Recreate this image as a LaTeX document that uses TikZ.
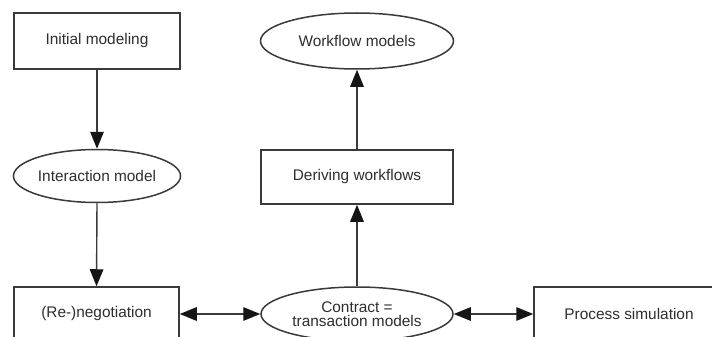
\documentclass[tikz,border=0pt]{standalone}
\usepackage{fontspec}
\setmainfont{Liberation Sans}
\usetikzlibrary{shapes.geometric,arrows.meta}
\definecolor{ink}{HTML}{3A3A3A}
\definecolor{tip}{HTML}{151515}
\definecolor{txt}{HTML}{2E2E2E}
\tikzset{
  base/.style={draw=ink, line width=1.5pt, text=txt, inner sep=0pt,
    font=\fontsize{15.4}{16}\selectfont, align=center},
  stepbox/.style={base, rectangle},
  result/.style={base, ellipse},
  flow/.style={draw=ink, line width=1.4pt,
    -{Triangle[length=17pt,width=13.5pt,color=tip]}},
  both/.style={draw=ink, line width=1.4pt,
    {Triangle[length=17pt,width=13.5pt,color=tip]}-{Triangle[length=17pt,width=13.5pt,color=tip]}}
}
\begin{document}
\begin{tikzpicture}[x=1pt, y=-1pt]
  \useasboundingbox (0,0) rectangle (712,337);
  \clip (0,0) rectangle (712,337);
  \fill[white] (0,0) rectangle (712,337);

  % left column
  \node[stepbox, minimum width=166pt, minimum height=56pt] (init) at (97,41) {Initial modeling};
  \node[result, minimum width=166pt, minimum height=53pt] (inter) at (97,176) {Interaction model};
  \node[stepbox, minimum width=165pt, minimum height=54pt] (nego) at (96.5,314) {(Re-)negotiation};

  % middle column
  \node[result, minimum width=193pt, minimum height=56pt] (wfm) at (357,41) {Workflow models};
  \node[stepbox, minimum width=192pt, minimum height=54pt] (deriv) at (357,177) {Deriving workflows};
  \node[result, minimum width=192pt, minimum height=54pt] (contract) at (357,314)
    {Contract =\\[-2pt]transaction models};

  % right column
  \node[stepbox, minimum width=190pt, minimum height=54pt] (proc) at (629,314) {Process simulation};

  % connectors
  \draw[flow] (init.south) -- (inter.north);
  \draw[flow] (inter.south) -- (nego.north);
  \draw[flow] (contract.north) -- (deriv.south);
  \draw[flow] (deriv.north) -- (wfm.south);
  \draw[both] (nego.east) -- (contract.west);
  \draw[both] (contract.east) -- (proc.west);
\end{tikzpicture}
\end{document}
